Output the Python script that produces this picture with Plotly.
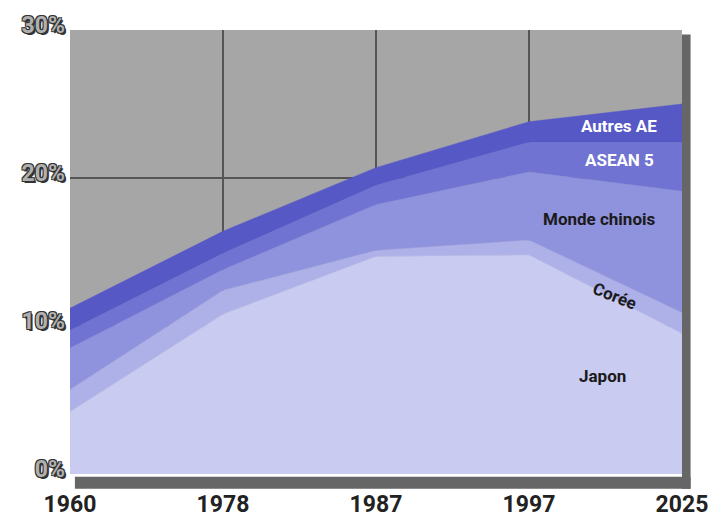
import plotly.graph_objects as go

years = ["1960", "1978", "1987", "1997", "2025"]
japon = [4.2, 10.8, 14.7, 14.8, 9.5]
coree = [1.5, 1.6, 0.4, 1.0, 1.4]
monde_chinois = [2.8, 1.4, 3.1, 4.6, 8.2]
asean5 = [1.2, 1.1, 1.3, 2.0, 3.3]
autres_ae = [1.5, 1.5, 1.2, 1.4, 2.6]

series = [
    ("Japon", japon, "#c9cbf1"),
    ("Corée", coree, "#aeb0e8"),
    ("Monde chinois", monde_chinois, "#8f92dd"),
    ("ASEAN 5", asean5, "#7073d2"),
    ("Autres AE", autres_ae, "#5658c6"),
]

fig = go.Figure()
for name, vals, col in series:
    fig.add_trace(go.Scatter(
        x=years, y=vals, name=name, stackgroup="one", mode="lines",
        line=dict(width=0.5, color=col), fillcolor=col, showlegend=False,
    ))

label_font = "Liberation Sans Narrow, Roboto, Arial, sans-serif"
# series labels near right edge
labels = [
    ("Autres AE", 3.59, 23.5, "white", 0),
    ("ASEAN 5", 3.59, 21.2, "white", 0),
    ("Monde chinois", 3.46, 17.2, "#1a1a1a", 0),
    ("Corée", 3.56, 12.0, "#1a1a1a", 22),
    ("Japon", 3.48, 6.6, "#1a1a1a", 0),
]
for txt, xv, yv, c, ang in labels:
    fig.add_annotation(x=xv, y=yv, xref="x", yref="y", text="<b>%s</b>" % txt,
                       showarrow=False, textangle=ang,
                       font=dict(family=label_font, size=17, color=c))

# 3D-like shadow bars
fig.add_shape(type="rect", xref="paper", yref="paper", x0=0.008, x1=1.014,
              y0=-0.033, y1=-0.006, fillcolor="#666666", line=dict(width=0), layer="below")
fig.add_shape(type="rect", xref="paper", yref="paper", x0=1.0, x1=1.014,
              y0=-0.033, y1=0.99, fillcolor="#666666", line=dict(width=0), layer="below")

outline = "1px 1px 0 #333, -1px -1px 0 #333, 1px -1px 0 #333, -1px 1px 0 #333, 2px 2px 0 #333"

fig.update_layout(
    width=725, height=530,
    margin=dict(l=70, r=43, t=21, b=53),
    paper_bgcolor="white",
    plot_bgcolor="#a6a6a6",
    xaxis=dict(
        type="category", range=[0, 4], showgrid=True, gridcolor="#555555", gridwidth=2,
        zeroline=False, showline=False, ticks="",
        tickfont=dict(family=label_font, size=23, color="#222222", weight="bold"),
        ticklabelstandoff=14,
    ),
    yaxis=dict(
        range=[0, 30], dtick=10, ticksuffix="%", showgrid=True, gridcolor="#555555",
        gridwidth=2, zeroline=False, showline=False, ticks="",
        tickfont=dict(family=label_font, size=23, color="#b0b0b0", weight="bold", shadow=outline),
        ticklabelstandoff=4, ticklabelshift=-5,
    ),
)

fig.write_html("out.html")
